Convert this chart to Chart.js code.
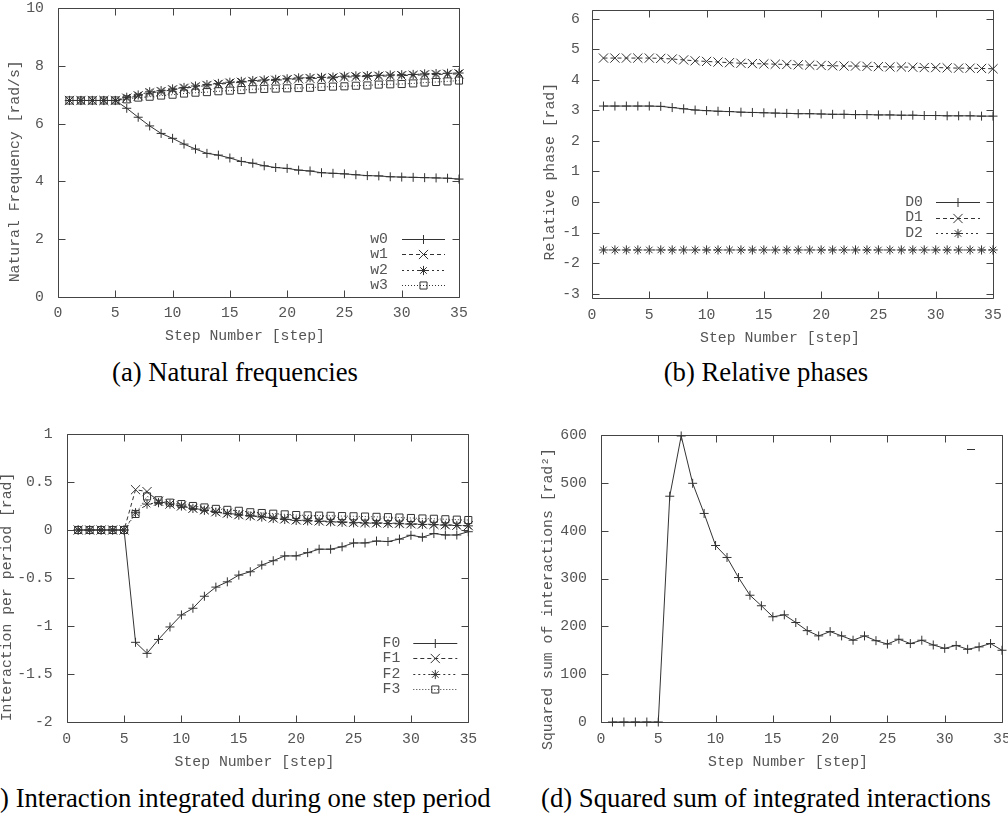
<!DOCTYPE html>
<html><head><meta charset="utf-8">
<script src="https://cdn.jsdelivr.net/npm/chart.js@4.4.1/dist/chart.umd.min.js"></script>
<style>
html,body{margin:0;padding:0;background:#fff;}
body{position:relative;width:1008px;height:819px;overflow:hidden;}
canvas{position:absolute;}
.cap{position:absolute;width:700px;text-align:center;font-family:"Liberation Serif","Times New Roman",serif;font-size:26.7px;line-height:30px;color:#000;white-space:nowrap;}
</style></head><body>
<canvas id="ca" width="480" height="350" style="left:0;top:0"></canvas>
<canvas id="cb" width="488" height="350" style="left:520px;top:0"></canvas>
<canvas id="cc" width="480" height="360" style="left:0;top:420px"></canvas>
<canvas id="cd" width="500" height="360" style="left:520px;top:420px"></canvas>
<div class="cap" style="left:-115px;top:357px">(a) Natural frequencies</div>
<div class="cap" style="left:416px;top:357px">(b) Relative phases</div>
<div class="cap" style="left:-115px;top:783px">(c) Interaction integrated during one step period</div>
<div class="cap" style="left:416px;top:783px">(d) Squared sum of integrated interactions</div>
<script>
// ---------- data ----------
const steps = [1,2,3,4,5,6,7,8,9,10,11,12,13,14,15,16,17,18,19,20,21,22,23,24,25,26,27,28,29,30,31,32,33,34,35];
const xTicks = [0,5,10,15,20,25,30,35];
const yTicksA = [0,2,4,6,8,10];
const yTicksB = [-3,-2,-1,0,1,2,3,4,5,6];
const yTicksC = [-2,-1.5,-1,-0.5,0,0.5,1];
const yTicksD = [0,100,200,300,400,500,600];

const w0 = [6.8,6.8,6.8,6.8,6.8,6.53,6.22,5.92,5.66,5.49,5.29,5.12,4.97,4.91,4.81,4.69,4.63,4.54,4.48,4.45,4.39,4.36,4.30,4.28,4.26,4.23,4.20,4.19,4.16,4.15,4.14,4.13,4.12,4.11,4.08];
const w1 = [6.8,6.8,6.8,6.8,6.8,6.88,6.96,7.06,7.11,7.17,7.22,7.27,7.32,7.36,7.40,7.43,7.46,7.48,7.50,7.52,7.55,7.56,7.57,7.58,7.61,7.62,7.63,7.64,7.65,7.66,7.67,7.69,7.70,7.71,7.72];
const w2 = [6.8,6.8,6.8,6.8,6.8,6.91,6.99,7.10,7.14,7.20,7.25,7.30,7.35,7.39,7.43,7.46,7.49,7.51,7.53,7.55,7.58,7.59,7.60,7.61,7.64,7.65,7.66,7.67,7.68,7.69,7.70,7.72,7.73,7.74,7.75];
const w3 = [6.8,6.8,6.8,6.8,6.8,6.84,6.90,6.93,6.97,7.00,7.04,7.07,7.09,7.12,7.14,7.16,7.19,7.20,7.21,7.22,7.23,7.24,7.27,7.28,7.29,7.31,7.32,7.35,7.36,7.37,7.39,7.42,7.44,7.46,7.49];

const D0 = [3.14,3.14,3.14,3.14,3.14,3.13,3.09,3.05,3.01,2.99,2.97,2.96,2.94,2.93,2.92,2.91,2.90,2.89,2.89,2.88,2.87,2.87,2.86,2.86,2.85,2.85,2.84,2.84,2.83,2.83,2.82,2.82,2.82,2.81,2.81];
const D1 = [4.71,4.71,4.71,4.71,4.71,4.70,4.68,4.65,4.62,4.60,4.58,4.56,4.54,4.53,4.52,4.51,4.50,4.49,4.48,4.47,4.46,4.45,4.45,4.44,4.43,4.42,4.42,4.41,4.40,4.40,4.39,4.38,4.38,4.37,4.36];
const D2 = [-1.57,-1.57,-1.57,-1.57,-1.57,-1.57,-1.57,-1.57,-1.57,-1.57,-1.57,-1.57,-1.57,-1.57,-1.57,-1.57,-1.57,-1.57,-1.57,-1.57,-1.57,-1.57,-1.57,-1.57,-1.57,-1.57,-1.57,-1.57,-1.57,-1.57,-1.57,-1.57,-1.57,-1.57,-1.57];

const F0 = [0,0,0,0,0,-1.17,-1.285,-1.14,-1.01,-0.885,-0.815,-0.69,-0.595,-0.54,-0.47,-0.435,-0.365,-0.32,-0.27,-0.27,-0.236,-0.2,-0.2,-0.175,-0.135,-0.135,-0.115,-0.12,-0.095,-0.055,-0.075,-0.037,-0.052,-0.052,-0.018];
const F1 = [0,0,0,0,0,0.42,0.40,0.30,0.27,0.25,0.225,0.21,0.19,0.175,0.16,0.15,0.14,0.125,0.115,0.105,0.10,0.095,0.09,0.085,0.08,0.078,0.075,0.072,0.07,0.065,0.062,0.058,0.055,0.05,0.045];
const F2 = [0,0,0,0,0,0.18,0.27,0.285,0.27,0.25,0.225,0.205,0.185,0.17,0.155,0.145,0.135,0.12,0.11,0.1,0.095,0.09,0.085,0.08,0.075,0.072,0.07,0.067,0.065,0.06,0.058,0.055,0.05,0.047,0.043];
const F3 = [0,0,0,0,0,0.167,0.35,0.31,0.285,0.27,0.25,0.235,0.22,0.21,0.2,0.185,0.177,0.17,0.163,0.156,0.152,0.15,0.148,0.145,0.143,0.14,0.137,0.134,0.13,0.125,0.12,0.117,0.112,0.108,0.104];

const Sq = [0,0,0,0,0,472,598,499,436,369,344,302,265,243,220,224,208,191,180,189,180,171,180,170,163,173,164,171,161,154,160,152,157,164,150];

// ---------- styles ----------
const MONO = "'Liberation Mono','DejaVu Sans Mono',monospace";
const FS = 14.8;
const TXT = '#555';
const INK = '#333';
const STY = [
  {pointStyle:'cross', pointRadius:4.5, borderDash:[]},
  {pointStyle:'crossRot', pointRadius:6.5, borderDash:[4,3]},
  {pointStyle:'star', pointRadius:4.6, borderDash:[2,3]},
  {pointStyle:'rect', pointRadius:5, borderDash:[1,2]}
];

function series(label, vals, i) {
  const s = STY[i];
  return {
    label: label,
    data: steps.map((x, k) => ({x: x, y: vals[k]})),
    borderColor: INK, borderWidth: 1, borderDash: s.borderDash,
    pointStyle: s.pointStyle, pointRadius: s.pointRadius, pointHoverRadius: s.pointRadius,
    pointBorderWidth: 1, pointBorderColor: INK, pointBackgroundColor: 'rgba(0,0,0,0)',
    fill: false, tension: 0, clip: false
  };
}

const gnu = {
  id: 'gnu',
  beforeDatasetsDraw(chart, args, o) {
    const {ctx, chartArea: a} = chart;
    const x = chart.scales.x, y = chart.scales.y;
    const r = v => Math.round(v) + 0.5;
    const L = 7;
    ctx.save();
    ctx.strokeStyle = '#444'; ctx.lineWidth = 1; ctx.setLineDash([]);
    ctx.beginPath();
    ctx.rect(r(a.left), r(a.top), Math.round(a.right) - Math.round(a.left), Math.round(a.bottom) - Math.round(a.top));
    x.ticks.forEach(t => {
      const p = r(x.getPixelForValue(t.value));
      ctx.moveTo(p, r(a.bottom)); ctx.lineTo(p, r(a.bottom) - L);
      ctx.moveTo(p, r(a.top)); ctx.lineTo(p, r(a.top) + L);
    });
    y.ticks.forEach(t => {
      const p = r(y.getPixelForValue(t.value));
      ctx.moveTo(r(a.left), p); ctx.lineTo(r(a.left) + L, p);
      ctx.moveTo(r(a.right), p); ctx.lineTo(r(a.right) - L, p);
    });
    ctx.stroke();
    ctx.restore();
  },
  afterDatasetsDraw(chart, args, o) {
    const k = o.key; if (!k) return;
    const {ctx, chartArea: a} = chart;
    ctx.save();
    ctx.font = FS + 'px ' + MONO;
    ctx.textAlign = 'right'; ctx.textBaseline = 'middle';
    chart.data.datasets.forEach((ds, i) => {
      const yy = a.top + k.top + i * k.spacing;
      if (ds.label) { ctx.fillStyle = TXT; ctx.fillText(ds.label, a.right - k.textRight, yy); }
      const x1 = a.right - k.lineStart, x2 = a.right - k.lineEnd;
      const ly = Math.round(yy) + 0.5;
      ctx.strokeStyle = ds.borderColor; ctx.lineWidth = 1; ctx.setLineDash(ds.borderDash || []);
      ctx.beginPath(); ctx.moveTo(x1, ly); ctx.lineTo(x2, ly); ctx.stroke();
      ctx.setLineDash([]);
      if (k.marker !== false) {
        ctx.fillStyle = 'rgba(0,0,0,0)';
        if (Chart.helpers && Chart.helpers.drawPoint) {
          Chart.helpers.drawPoint(ctx, {pointStyle: ds.pointStyle, radius: ds.pointRadius, borderWidth: 1, rotation: 0}, (x1 + x2) / 2, ly);
        }
      }
    });
    ctx.restore();
  },
  afterDraw(chart, args, o) {
    const t = o.titles; if (!t) return;
    const {ctx, chartArea: a} = chart;
    ctx.save();
    ctx.font = FS + 'px ' + MONO;
    ctx.fillStyle = TXT; ctx.textAlign = 'center'; ctx.textBaseline = 'middle';
    ctx.fillText(t.xText, (a.left + a.right) / 2 + t.xdx, a.bottom + t.xdy);
    ctx.translate(t.yx, (a.top + a.bottom) / 2 + t.ydy);
    ctx.rotate(-Math.PI / 2);
    ctx.fillText(t.yText, 0, 0);
    ctx.restore();
  }
};

function build(id, datasets, p) {
  const font = {family: MONO, size: FS, lineHeight: 1};
  return new Chart(document.getElementById(id), {
    type: 'line',
    data: {datasets: datasets.map((d, i) => Object.assign(d, {order: datasets.length - 1 - i}))},
    options: {
      responsive: false, animation: false, devicePixelRatio: 1,
      layout: {padding: {left: 0, top: p.top, right: p.right, bottom: 0}},
      plugins: {legend: {display: false}, tooltip: {enabled: false}, gnu: {key: p.key, titles: p.titles}},
      scales: {
        x: {
          type: 'linear', position: 'bottom', min: 0, max: 35,
          afterBuildTicks: s => { s.ticks = xTicks.map(v => ({value: v})); },
          afterFit: s => { s.height = p.xh; },
          grid: {display: false, drawTicks: true, tickLength: p.xpad}, border: {display: false},
          ticks: {padding: 0, font: font, color: TXT, maxRotation: 0, minRotation: 0, autoSkip: false, callback: v => String(v)},
          title: {display: false}
        },
        y: {
          type: 'linear', position: 'left', min: p.ymin, max: p.ymax,
          afterBuildTicks: s => { s.ticks = p.yTicks.map(v => ({value: v})); },
          afterFit: s => { s.width = p.yw; },
          grid: {display: false, drawTicks: true, tickLength: p.ypad}, border: {display: false},
          ticks: {padding: 0, font: font, color: TXT, autoSkip: false, callback: v => String(v)},
          title: {display: false}
        }
      }
    },
    plugins: [gnu]
  });
}

build('ca', [series('w0', w0, 0), series('w1', w1, 1), series('w2', w2, 2), series('w3', w3, 3)], {
  top: 8, right: 21, xh: 53, yw: 58, xpad: 9, ypad: 14, ymin: 0, ymax: 10, yTicks: yTicksA,
  key: {top: 231, spacing: 15.33, lineStart: 57, lineEnd: 14, textRight: 71},
  titles: {xText: 'Step Number [step]', xdx: -13.5, xdy: 39, yText: 'Natural Frequency [rad/s]', yx: 15, ydy: 18.8}
});

build('cb', [series('D0', D0, 0), series('D1', D1, 1), series('D2', D2, 2)], {
  top: 10, right: 15, xh: 52, yw: 72, xpad: 10, ypad: 12, ymin: -Math.PI, ymax: 2 * Math.PI, yTicks: yTicksB,
  key: {top: 191.7, spacing: 15.8, lineStart: 57, lineEnd: 13, textRight: 70},
  titles: {xText: 'Step Number [step]', xdx: -12.5, xdy: 39.7, yText: 'Relative phase [rad]', yx: 30, ydy: 17.7}
});

build('cc', [series('F0', F0, 0), series('F1', F1, 1), series('F2', F2, 2), series('F3', F3, 3)], {
  top: 14, right: 11.7, xh: 58, yw: 66.7, xpad: 10, ypad: 14, ymin: -2, ymax: 1, yTicks: yTicksC,
  key: {top: 208.7, spacing: 15.5, lineStart: 55, lineEnd: 11, textRight: 68},
  titles: {xText: 'Step Number [step]', xdx: -13, xdy: 39.7, yText: 'Interaction per period [rad]', yx: 7, ydy: 19}
});

build('cd', [series('', Sq, 0)], {
  top: 15, right: 18, xh: 58, yw: 81, xpad: 10, ypad: 14, ymin: 0, ymax: 600, yTicks: yTicksD,
  key: {top: 14, spacing: 0, lineStart: 35, lineEnd: 27, textRight: 48, marker: false},
  titles: {xText: 'Step Number [step]', xdx: -13.5, xdy: 40, yText: 'Squared sum of interactions [rad\u00B2]', yx: 28, ydy: 20.5}
});
</script>
</body></html>
